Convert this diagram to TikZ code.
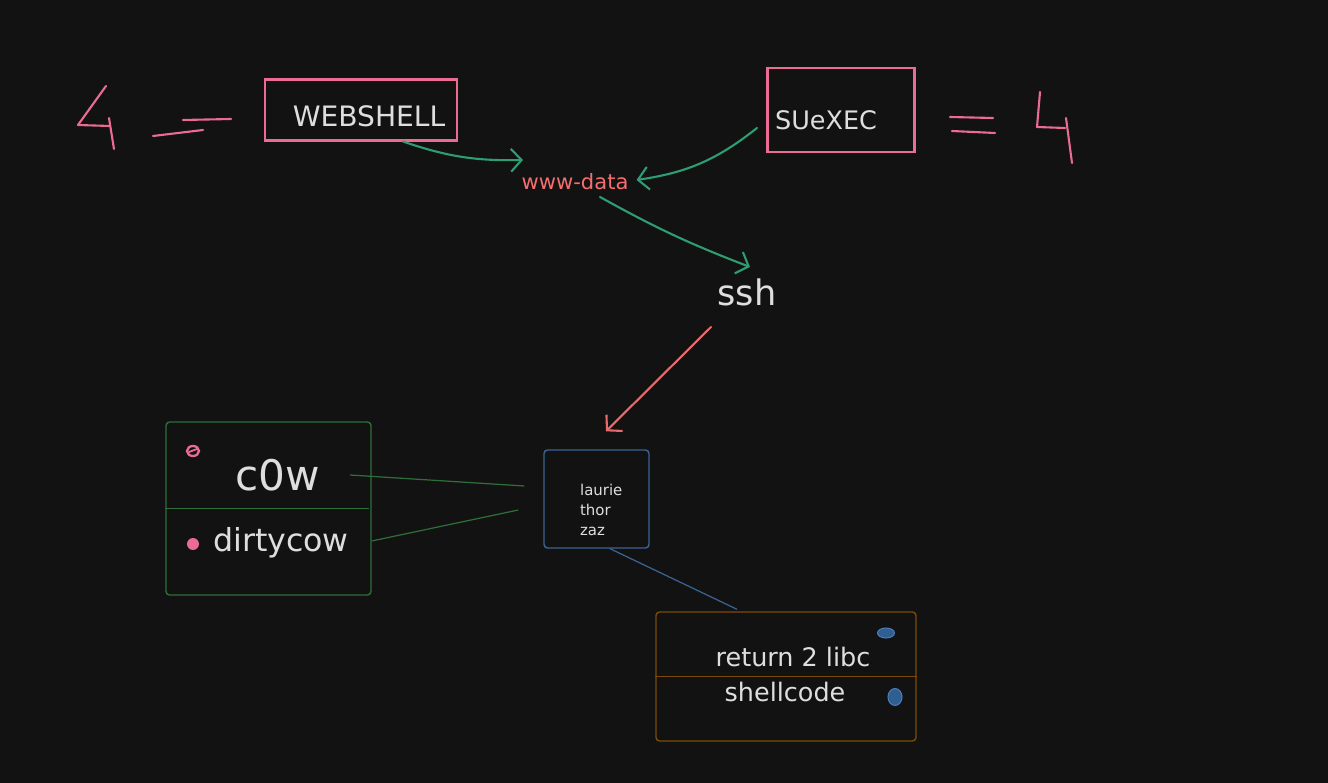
\documentclass[tikz,border=0pt]{standalone}
\usepackage{fontspec}
\setmainfont{DejaVu Sans}
\usetikzlibrary{arrows.meta}
\definecolor{bgcol}{HTML}{121212}
\definecolor{pinkline}{HTML}{EA6C93}
\definecolor{txtcol}{HTML}{DEDEDE}
\definecolor{flowgreen}{HTML}{2E9E72}
\definecolor{salmon}{HTML}{F46E6E}
\definecolor{redline}{HTML}{E86A6A}
\definecolor{boxgreen}{HTML}{2F6E38}
\definecolor{boxblue}{HTML}{3A6494}
\definecolor{boxorange}{HTML}{7A4B08}
\definecolor{dotblue}{HTML}{2F5F91}
\definecolor{dotrim}{HTML}{4A7DB5}
\tikzset{
	sketch/.style = {
		draw=pinkline,
		line width=1.2pt,
		line cap=round,
		line join=round
	},
	pinkbox/.style = {
		shape=rectangle,
		draw=pinkline,
		line width=1.2pt,
		inner sep=0pt
	},
	lbl/.style = {
		text=txtcol,
		inner sep=1pt
	},
	flow/.style = {
		draw=flowgreen,
		line width=1.2pt,
		line cap=round,
		-{Straight Barb[length=6pt,width=13pt]}
	},
	framebox/.style = {
		shape=rectangle,
		rounded corners=2pt,
		line width=0.8pt,
		inner sep=0pt
	}
}

\begin{document}
\begin{tikzpicture}[x=0.02cm, y=-0.02cm]
		\fill[bgcol] (0,0) rectangle (1328,783);
		\useasboundingbox (0,0) rectangle (1328,783);
		\draw[sketch] (106,86) -- (78,125) -- (110,126);
		\draw[sketch] (109,118) -- (114,149);
		\draw[sketch] (153,136) -- (203,130);
		\draw[sketch] (183,120) -- (231,119);
		\draw[sketch] (950,117) -- (993,118);
		\draw[sketch] (952,131) -- (995,133);
		\draw[sketch] (1040,92) -- (1037,127) -- (1065,128);
		\draw[sketch] (1066,118) -- (1072,163);

		\node[pinkbox, minimum width=3.84cm, minimum height=1.22cm] (webbox) at (361,110) {};
		\node[lbl, font=\fontsize{16}{19}\selectfont] (webshell) at (369,116) {WEBSHELL};
		\node[pinkbox, minimum width=2.94cm, minimum height=1.68cm] (suexecbox) at (841,110) {};
		\node[lbl, font=\fontsize{14.5}{17}\selectfont] (suexec) at (826,120) {SUeXEC};
		\node[inner sep=1pt, text=salmon, font=\fontsize{12}{14}\selectfont] (www) at (575,182) {www-data};
		\node[lbl, font=\fontsize{20}{24}\selectfont] (ssh) at (747,292) {ssh};

		\draw[flow] ([shift={(42,0)}]webbox.south) to[bend right=10] ([shift={(-52,-22)}]www.center);
		\draw[flow] ([shift={(-69,8)}]suexec.center) to[bend left=15] ([shift={(6,-2)}]www.east);
		\draw[flow] ([shift={(25,15)}]www.center) to[bend right=4] ([shift={(3,-25)}]ssh.center);

		\node[framebox, draw=boxgreen, minimum width=4.1cm, minimum height=3.46cm] (cowbox) at (268.5,508.5) {};
		\draw[boxgreen, line width=0.8pt] (cowbox.west) -- ([xshift=-0.06cm]cowbox.east);
		\node[lbl, font=\fontsize{24}{28}\selectfont] (cow) at (278,475) {c0w};
		\node[lbl, font=\fontsize{18}{22}\selectfont] (dirty) at (281,543) {dirtycow};
		\draw[pinkline, line width=1.3pt] (193,451) ellipse [x radius=0.12cm, y radius=0.1cm];
		\draw[pinkline, line width=1pt] (189,452) -- (197,449);
		\fill[pinkline] (193,544) circle [radius=0.12cm];

		\node[framebox, draw=boxblue, minimum width=2.1cm, minimum height=1.96cm] (userbox) at (596.5,499) {};
		\node[lbl, align=left, anchor=west, font=\fontsize{8.5}{11.4}\selectfont] (users) at (578,510) {laurie\\thor\\zaz};

		\draw[redline, line width=1.2pt, line cap=round, -{Straight Barb[length=6pt,width=13pt]}] ([shift={(-36,35)}]ssh.center) -- ([shift={(9.5,-18)}]userbox.north);

		\draw[boxgreen, line width=0.7pt] ([xshift=0.55cm]cow.east) -- ([shift={(-19,-13)}]userbox.west);
		\draw[boxgreen, line width=0.7pt] ([shift={(0,32.5)}]cowbox.east) -- ([shift={(-25,11)}]userbox.west);

		\node[framebox, draw=boxorange, minimum width=5.2cm, minimum height=2.58cm] (codebox) at (786,676.5) {};
		\draw[boxorange, line width=0.8pt] (codebox.west) -- (codebox.east);
		\node[lbl, font=\fontsize{14.5}{17}\selectfont] (libc) at (793,657) {return 2 libc};
		\node[lbl, font=\fontsize{14.5}{17}\selectfont] (shellcode) at (785,692) {shellcode};
		\draw[dotrim, fill=dotblue, line width=0.6pt] (886,633) ellipse [x radius=0.17cm, y radius=0.1cm];
		\draw[dotrim, fill=dotblue, line width=0.6pt] (895,697) ellipse [x radius=0.14cm, y radius=0.17cm];

		\draw[boxblue, line width=0.7pt] ([shift={(13.5,0)}]userbox.south) -- ([shift={(-49,-2)}]codebox.north);
		\end{tikzpicture}
\end{document}
